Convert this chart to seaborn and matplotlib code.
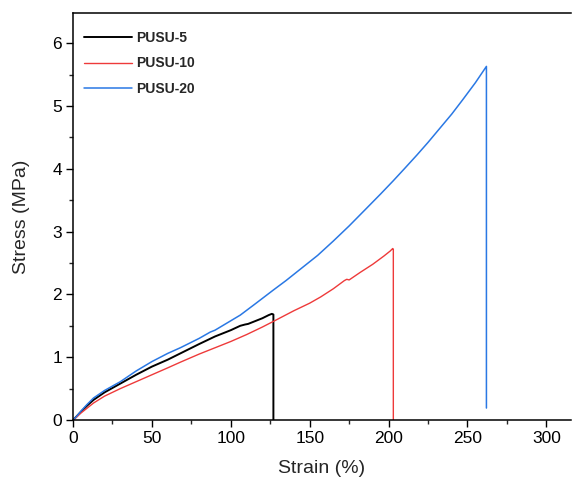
import numpy as np
import pandas as pd
import matplotlib
matplotlib.use("Agg")
import matplotlib.pyplot as plt
import seaborn as sns
from matplotlib.ticker import MultipleLocator

# Tensile stress-strain data (strain in %, stress in MPa)
strain_5 = [0, 2, 5, 9, 13, 20, 30, 40, 50, 60, 68, 80, 90, 100, 106, 109, 111,
            116, 120, 124, 126, 127, 127]
stress_5 = [0, 0.05, 0.13, 0.23, 0.32, 0.44, 0.58, 0.72, 0.85, 0.96, 1.06, 1.21,
            1.33, 1.43, 1.50, 1.52, 1.53, 1.58, 1.62, 1.67, 1.69, 1.68, 0]

strain_10 = [0, 2, 5, 9, 13, 20, 30, 40, 50, 60, 68, 80, 90, 100, 110, 120, 127,
             140, 150, 157, 165, 172, 173.5, 175, 182, 190, 197, 201, 202.6, 203, 203]
stress_10 = [0, 0.04, 0.11, 0.19, 0.27, 0.38, 0.50, 0.61, 0.72, 0.83, 0.92, 1.05,
             1.15, 1.25, 1.36, 1.48, 1.57, 1.74, 1.86, 1.96, 2.09, 2.22, 2.24, 2.23,
             2.35, 2.48, 2.61, 2.69, 2.73, 2.72, 0]

strain_20 = [0, 2, 5, 9, 13, 20, 30, 40, 50, 60, 68, 80, 87, 90, 92, 100, 106, 115,
             127, 135, 144, 155, 165, 175, 186, 195, 203, 210, 218, 225, 233, 240, 247,
             255, 262, 262]
stress_20 = [0, 0.05, 0.14, 0.25, 0.35, 0.47, 0.61, 0.78, 0.93, 1.06, 1.15, 1.30,
             1.40, 1.43, 1.46, 1.58, 1.67, 1.84, 2.07, 2.22, 2.40, 2.62, 2.85, 3.09,
             3.37, 3.60, 3.81, 4.00, 4.22, 4.42, 4.66, 4.87, 5.10, 5.37, 5.63, 0.19]

labels = ["PUSU-5", "PUSU-10", "PUSU-20"]
colors = ["#000000", "#EE3A3A", "#2A78E4"]
widths = [1.4, 1.0, 1.1]

frames = []
for lab, xs, ys in zip(labels, [strain_5, strain_10, strain_20],
                       [stress_5, stress_10, stress_20]):
    frames.append(pd.DataFrame({"Strain": xs, "Stress": ys, "Sample": lab,
                                "order": np.arange(len(xs))}))
df = pd.concat(frames, ignore_index=True)

sns.set_style("ticks")
plt.rcParams["font.family"] = ["Liberation Sans", "DejaVu Sans"]

fig = plt.figure(figsize=(5.72, 4.82), dpi=100)
ax = fig.add_axes([73 / 572, 1 - 420 / 482, 498 / 572, 407 / 482])

for lab, col, lw in zip(labels, colors, widths):
    sub = df[df["Sample"] == lab]
    sns.lineplot(data=sub, x="Strain", y="Stress", sort=False, estimator=None,
                 color=col, linewidth=lw, label=lab, ax=ax)

ax.set_xlim(0, 315.6)
ax.set_ylim(0, 6.48)
ax.xaxis.set_major_locator(MultipleLocator(50))
ax.xaxis.set_minor_locator(MultipleLocator(25))
ax.yaxis.set_major_locator(MultipleLocator(1))
ax.yaxis.set_minor_locator(MultipleLocator(0.5))
ax.tick_params(which="major", direction="out", length=5, width=1, labelsize=12.5,
               colors="black", pad=3)
ax.tick_params(which="minor", direction="out", length=3, width=1)
ax.set_xlabel("Strain (%)", fontsize=14, labelpad=10)
ax.set_ylabel("Stress (MPa)", fontsize=14, labelpad=16)

for side in ["left", "bottom", "top"]:
    ax.spines[side].set_visible(True)
    ax.spines[side].set_linewidth(1.1)
    ax.spines[side].set_color("black")
ax.spines["right"].set_visible(False)

leg = ax.legend(loc="upper left", bbox_to_anchor=(0.022, 0.955), frameon=False,
                borderpad=0, borderaxespad=0, handlelength=3.45,
                handletextpad=0.3, labelspacing=0.8,
                prop={"weight": "bold", "size": 10})

fig.savefig("out.png", dpi=100)
